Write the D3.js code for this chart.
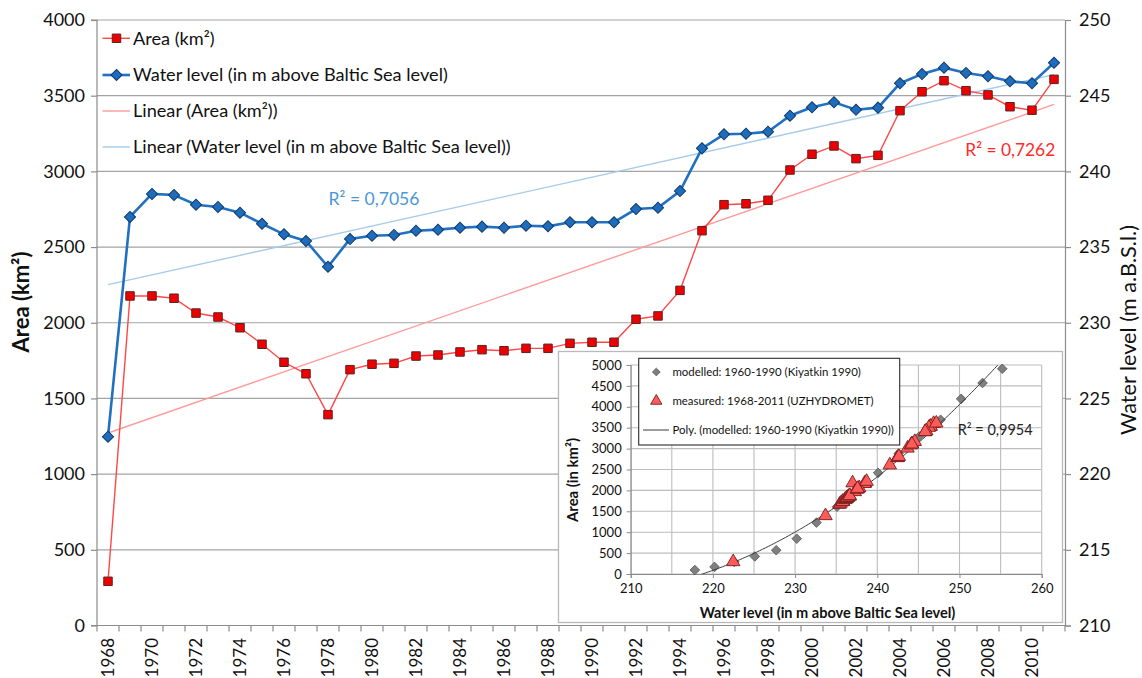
<!DOCTYPE html>
<html>
<head>
<meta charset="utf-8">
<script src="https://cdn.jsdelivr.net/npm/d3@7"></script>
<style>
  body { margin: 0; background: #fff; }
  svg { display: block; }
  text { font-family: Lato, "Open Sans", sans-serif; }
</style>
</head>
<body>
<svg id="chart" width="1142" height="678"></svg>
<script>
// ---- Aral Sea (Large Aral) area and water level, 1968–2011 ----
const years = [1968, 1969, 1970, 1971, 1972, 1973, 1974, 1975, 1976, 1977, 1978, 1979,
  1980, 1981, 1982, 1983, 1984, 1985, 1986, 1987, 1988, 1989, 1990, 1991, 1992, 1993,
  1994, 1995, 1996, 1997, 1998, 1999, 2000, 2001, 2002, 2003, 2004, 2005, 2006, 2007,
  2008, 2009, 2010, 2011];

// Area in km²
const areaKm2 = [292, 2177, 2177, 2162, 2064, 2038, 1967, 1858, 1739, 1663, 1393, 1690,
  1726, 1732, 1780, 1787, 1807, 1822, 1815, 1831, 1831, 1864, 1871, 1871, 2023, 2045,
  2214, 2608, 2780, 2786, 2809, 3009, 3113, 3168, 3084, 3106, 3401, 3526, 3599, 3533,
  3505, 3427, 3404, 3608];

// Water level in m above Baltic Sea level
const waterLevel = [222.47, 236.99, 238.51, 238.44, 237.80, 237.65, 237.27, 236.54, 235.84,
  235.40, 233.70, 235.53, 235.75, 235.80, 236.08, 236.15, 236.28, 236.35, 236.28, 236.41,
  236.37, 236.64, 236.64, 236.64, 237.51, 237.60, 238.70, 241.52, 242.45, 242.49, 242.62,
  243.68, 244.23, 244.56, 244.07, 244.21, 245.82, 246.43, 246.85, 246.50, 246.28, 245.95,
  245.82, 247.18];

const areaTicks = [0, 500, 1000, 1500, 2000, 2500, 3000, 3500, 4000];
const levelTicks = [210, 215, 220, 225, 230, 235, 240, 245, 250];
const yearLabels = [1968, 1970, 1972, 1974, 1976, 1978, 1980, 1982, 1984, 1986, 1988, 1990,
  1992, 1994, 1996, 1998, 2000, 2002, 2004, 2006, 2008, 2010];

const r2Area = "R² = 0,7262";
const r2Level = "R² = 0,7056";

// Modelled level–area relation (Kiyatkin 1990)
const modelLevel = [217.8, 220.2, 222.6, 225.1, 227.7, 230.2, 232.6, 235.1, 237.6, 240.1,
  242.6, 245.1, 247.7, 250.2, 252.8, 255.2];
const modelArea = [95, 170, 290, 420, 570, 845, 1230, 1610, 2010, 2420, 2880, 3290, 3690,
  4190, 4570, 4910];
const insetAreaTicks = [0, 500, 1000, 1500, 2000, 2500, 3000, 3500, 4000, 4500, 5000];
const insetLevelTicks = [210, 220, 230, 240, 250, 260];
const insetLevelGrid = [210, 215, 220, 225, 230, 235, 240, 245, 250, 255, 260];
const r2Poly = "R² = 0,9954";

// ---- helpers ----
const svg = d3.select("#chart");
const plain = d3.format("d");

function fitWidth(sel, width) {
  const fs = parseFloat(sel.attr("font-size"));
  const w = sel.node().getComputedTextLength();
  sel.attr("font-size", fs * width / w);
  return fs * width / w;
}

function linearFit(xs, ys) {
  const n = xs.length;
  const mx = d3.mean(xs), my = d3.mean(ys);
  let sxy = 0, sxx = 0;
  for (let i = 0; i < n; i++) { sxy += (xs[i] - mx) * (ys[i] - my); sxx += (xs[i] - mx) ** 2; }
  const b = sxy / sxx;
  return { a: my - b * mx, b };
}

function quadFit(xs, ys) {
  // least squares y = c0 + c1 u + c2 u², with u = x - mean(x)
  const x0 = d3.mean(xs);
  const S = [0, 0, 0, 0, 0], T = [0, 0, 0];
  xs.forEach((xv, i) => {
    const u = xv - x0;
    for (let k = 0; k < 5; k++) S[k] += u ** k;
    for (let k = 0; k < 3; k++) T[k] += ys[i] * u ** k;
  });
  const M = [[S[0], S[1], S[2], T[0]], [S[1], S[2], S[3], T[1]], [S[2], S[3], S[4], T[2]]];
  for (let c = 0; c < 3; c++) {
    let p = c;
    for (let r = c + 1; r < 3; r++) if (Math.abs(M[r][c]) > Math.abs(M[p][c])) p = r;
    [M[c], M[p]] = [M[p], M[c]];
    for (let r = 0; r < 3; r++) {
      if (r === c) continue;
      const f = M[r][c] / M[c][c];
      for (let k = c; k < 4; k++) M[r][k] -= f * M[c][k];
    }
  }
  const c = M.map((row, i) => row[3] / row[i]);
  return v => c[0] + c[1] * (v - x0) + c[2] * (v - x0) ** 2;
}

// ---- main chart ----
const plot = { left: 97, right: 1065, top: 20, bottom: 625.5 };
const x = d3.scaleBand().domain(years).range([plot.left, plot.right]);
const cx = yr => x(yr) + x.bandwidth() / 2;
const yA = d3.scaleLinear().domain([0, 4000]).range([plot.bottom, plot.top]);
const yL = d3.scaleLinear().domain([210, 250]).range([plot.bottom, plot.top]);

const gridColor = "#a3a3a3";
const axisColor = "#8c8c8c";

// horizontal gridlines
svg.append("g").selectAll("line").data(areaTicks.filter(t => t > 0)).join("line")
  .attr("x1", plot.left).attr("x2", plot.right)
  .attr("y1", d => yA(d)).attr("y2", d => yA(d))
  .attr("stroke", gridColor).attr("stroke-width", 1.2);

// left axis
const gLeft = svg.append("g").attr("transform", `translate(${plot.left},0)`)
  .call(d3.axisLeft(yA).tickValues(areaTicks).tickFormat(plain).tickSize(6).tickPadding(6));
gLeft.selectAll("path,line").attr("stroke", axisColor).attr("stroke-width", 1.2);
gLeft.selectAll("text").attr("font-size", 18).attr("fill", "#111");
gLeft.select(".domain").attr("d", `M-6,${plot.top}H0V${plot.bottom}H-6`);

// right axis
const gRight = svg.append("g").attr("transform", `translate(${plot.right},0)`)
  .call(d3.axisRight(yL).tickValues(levelTicks).tickFormat(plain).tickSize(6).tickPadding(8));
gRight.selectAll("path,line").attr("stroke", axisColor).attr("stroke-width", 1.2);
gRight.selectAll("text").attr("font-size", 18).attr("fill", "#111");

// bottom axis: tick marks between categories, labels every second year
const gBottom = svg.append("g").attr("transform", `translate(0,${plot.bottom})`);
gBottom.append("line").attr("x1", plot.left).attr("x2", plot.right)
  .attr("stroke", axisColor).attr("stroke-width", 1.2);
gBottom.selectAll("line.tick").data(years.concat([null])).join("line")
  .attr("class", "tick")
  .attr("x1", (d, i) => plot.left + i * x.bandwidth())
  .attr("x2", (d, i) => plot.left + i * x.bandwidth())
  .attr("y1", 0).attr("y2", 6)
  .attr("stroke", axisColor).attr("stroke-width", 1.2);
gBottom.selectAll("text").data(yearLabels).join("text")
  .attr("transform", d => `translate(${cx(d)},12.5) rotate(-90)`)
  .attr("text-anchor", "end").attr("dy", "0.36em")
  .attr("font-size", 17).attr("fill", "#111")
  .text(d => d);

// axis titles
const tLeft = svg.append("text")
  .attr("transform", "translate(29,302) rotate(-90)")
  .attr("text-anchor", "middle").attr("font-size", 20).attr("font-weight", 700)
  .attr("fill", "#111").text("Area (km²)");
fitWidth(tLeft, 101);
const tRight = svg.append("text")
  .attr("transform", "translate(1136,330) rotate(-90)")
  .attr("text-anchor", "middle").attr("font-size", 21).attr("font-weight", 400)
  .attr("fill", "#111").text("Water level (m a.B.S.l.)");
fitWidth(tRight, 210);

// linear trend lines
const fitA = linearFit(years, areaKm2);
const fitL = linearFit(years, waterLevel);
const y0 = years[0], y1 = years[years.length - 1];
svg.append("line")
  .attr("x1", cx(y0)).attr("y1", yA(fitA.a + fitA.b * y0))
  .attr("x2", cx(y1)).attr("y2", yA(fitA.a + fitA.b * y1))
  .attr("stroke", "#ff9a9a").attr("stroke-width", 1.4);
svg.append("line")
  .attr("x1", cx(y0)).attr("y1", yL(fitL.a + fitL.b * y0))
  .attr("x2", cx(y1)).attr("y2", yL(fitL.a + fitL.b * y1))
  .attr("stroke", "#a7cbea").attr("stroke-width", 1.4);

// area series
const areaColor = "#ff4747";
svg.append("path").datum(years)
  .attr("d", d3.line().x(cx).y((d, i) => yA(areaKm2[i])))
  .attr("fill", "none").attr("stroke", areaColor).attr("stroke-width", 1.4);
const squareSym = d3.symbol(d3.symbolSquare, 72);
svg.append("g").selectAll("path").data(years).join("path")
  .attr("d", squareSym)
  .attr("transform", (d, i) => `translate(${cx(d)},${yA(areaKm2[i])})`)
  .attr("fill", "#ee0000").attr("stroke", "#5b2222").attr("stroke-width", 1);

// water level series
const levelColor = "#2170c1";
svg.append("path").datum(years)
  .attr("d", d3.line().x(cx).y((d, i) => yL(waterLevel[i])))
  .attr("fill", "none").attr("stroke", levelColor).attr("stroke-width", 2.6);
const diamondSym = d3.symbol(d3.symbolSquare, 62);
svg.append("g").selectAll("path").data(years).join("path")
  .attr("d", diamondSym)
  .attr("transform", (d, i) => `translate(${cx(d)},${yL(waterLevel[i])}) rotate(45)`)
  .attr("fill", "#1f6cbd").attr("stroke", "#0d3b69").attr("stroke-width", 1);

// R² labels
const rL = svg.append("text").attr("x", 328.6).attr("y", 199.3).attr("dy", "0.35em")
  .attr("font-size", 17).attr("fill", "#4a98d8").text(r2Level);
fitWidth(rL, 91);
const rA = svg.append("text").attr("x", 965.3).attr("y", 150).attr("dy", "0.35em")
  .attr("font-size", 17).attr("fill", "#ff2a2a").text(r2Area);
fitWidth(rA, 90);

// legend
const legend = svg.append("g");
const legRows = [
  { label: "Area (km²)", y: 38.3, kind: "area" },
  { label: "Water level (in m above Baltic Sea level)", y: 75, kind: "level" },
  { label: "Linear (Area (km²))", y: 111, kind: "trendA" },
  { label: "Linear (Water level (in m above Baltic Sea level))", y: 147, kind: "trendL" }
];
const legStyles = {
  area: { stroke: areaColor, w: 1.4 },
  level: { stroke: levelColor, w: 2.6 },
  trendA: { stroke: "#ff9a9a", w: 1.4 },
  trendL: { stroke: "#a7cbea", w: 1.4 }
};
legRows.forEach(r => {
  const st = legStyles[r.kind];
  legend.append("line").attr("x1", 102.5).attr("x2", 130).attr("y1", r.y).attr("y2", r.y)
    .attr("stroke", st.stroke).attr("stroke-width", st.w);
  if (r.kind === "area")
    legend.append("path").attr("d", squareSym).attr("transform", `translate(116.5,${r.y})`)
      .attr("fill", "#ee0000").attr("stroke", "#5b2222");
  if (r.kind === "level")
    legend.append("path").attr("d", diamondSym).attr("transform", `translate(116.5,${r.y}) rotate(45)`)
      .attr("fill", "#1f6cbd").attr("stroke", "#0d3b69");
  r.node = legend.append("text").attr("x", 133).attr("y", r.y).attr("dy", "0.35em")
    .attr("font-size", 17).attr("fill", "#111").text(r.label);
});
const legSize = fitWidth(legRows[3].node, 378);
legRows.forEach(r => r.node.attr("font-size", legSize));

// ---- inset: area vs water level ----
const inset = svg.append("g");
inset.append("rect").attr("x", 558.5).attr("y", 351.5).attr("width", 504).attr("height", 271)
  .attr("fill", "#fff").attr("stroke", "#b9b9b9").attr("stroke-width", 1.3);

const ip = { left: 630.7, right: 1041.7, top: 365, bottom: 574 };
const xI = d3.scaleLinear().domain([210, 260]).range([ip.left, ip.right]);
const yI = d3.scaleLinear().domain([0, 5000]).range([ip.bottom, ip.top]);
const insetGrid = "#bdbdbd";

inset.append("g").selectAll("line").data(insetLevelGrid).join("line")
  .attr("x1", d => xI(d)).attr("x2", d => xI(d)).attr("y1", ip.top).attr("y2", ip.bottom)
  .attr("stroke", insetGrid).attr("stroke-width", 1.1);
inset.append("g").selectAll("line").data(insetAreaTicks).join("line")
  .attr("x1", ip.left).attr("x2", ip.right).attr("y1", d => yI(d)).attr("y2", d => yI(d))
  .attr("stroke", insetGrid).attr("stroke-width", 1.1);

const giY = inset.append("g").attr("transform", `translate(${ip.left},0)`)
  .call(d3.axisLeft(yI).tickValues(insetAreaTicks).tickFormat(plain).tickSize(4).tickPadding(5));
giY.selectAll("path,line").attr("stroke", "#8a8a8a");
giY.selectAll("text").attr("font-size", 13).attr("fill", "#111");
const giX = inset.append("g").attr("transform", `translate(0,${ip.bottom})`)
  .call(d3.axisBottom(xI).tickValues(insetLevelTicks).tickFormat(plain).tickSize(4).tickPadding(6));
giX.selectAll("path,line").attr("stroke", "#8a8a8a");
giX.selectAll("text").attr("font-size", 13).attr("fill", "#111");

const itY = inset.append("text").attr("transform", "translate(578,480) rotate(-90)")
  .attr("text-anchor", "middle").attr("font-size", 13).attr("font-weight", 700)
  .attr("fill", "#111").text("Area (in km²)");
fitWidth(itY, 84);
const itX = inset.append("text").attr("x", 827.5).attr("y", 612.7).attr("dy", "0.35em")
  .attr("text-anchor", "middle").attr("font-size", 14).attr("font-weight", 700)
  .attr("fill", "#111").text("Water level (in m above Baltic Sea level)");
fitWidth(itX, 256);

inset.append("clipPath").attr("id", "insetClip").append("rect")
  .attr("x", ip.left).attr("y", ip.top).attr("width", ip.right - ip.left).attr("height", ip.bottom - ip.top);

const smallDiamond = d3.symbol(d3.symbolSquare, 46);
const triangleSym = d3.symbol(d3.symbolTriangle, 78);

inset.append("g").selectAll("path").data(modelLevel).join("path")
  .attr("d", smallDiamond)
  .attr("transform", (d, i) => `translate(${xI(d)},${yI(modelArea[i])}) rotate(45)`)
  .attr("fill", "#7f7f7f").attr("stroke", "#595959").attr("stroke-width", 0.8);

const poly = quadFit(modelLevel, modelArea);
const polyPts = d3.range(0, 201).map(k => {
  const v = modelLevel[0] + (modelLevel[modelLevel.length - 1] - modelLevel[0]) * k / 200;
  return [v, poly(v)];
});
inset.append("path").datum(polyPts)
  .attr("clip-path", "url(#insetClip)")
  .attr("d", d3.line().x(d => xI(d[0])).y(d => yI(d[1])))
  .attr("fill", "none").attr("stroke", "#3a3a3a").attr("stroke-width", 1);

inset.append("g").selectAll("path").data(years).join("path")
  .attr("d", triangleSym)
  .attr("transform", (d, i) => `translate(${xI(waterLevel[i])},${yI(areaKm2[i])})`)
  .attr("fill", "#ff5b5b").attr("stroke", "#7a1c1c").attr("stroke-width", 0.9);

inset.append("text").attr("x", 957.7).attr("y", 430).attr("dy", "0.35em")
  .attr("font-size", 15).attr("fill", "#222").text(r2Poly)
  .call(s => fitWidth(s, 75));

// inset legend
const il = inset.append("g");
il.append("rect").attr("x", 638.7).attr("y", 358.3).attr("width", 261).attr("height", 86.7)
  .attr("fill", "#fff").attr("stroke", "#2b2b2b").attr("stroke-width", 1.1);
const ilRows = [
  { label: "modelled: 1960-1990 (Kiyatkin 1990)", y: 372, kind: "model" },
  { label: "measured: 1968-2011 (UZHYDROMET)", y: 401, kind: "measured" },
  { label: "Poly. (modelled: 1960-1990 (Kiyatkin 1990))", y: 430, kind: "poly" }
];
ilRows.forEach(r => {
  if (r.kind === "model")
    il.append("path").attr("d", d3.symbol(d3.symbolSquare, 30))
      .attr("transform", `translate(656.3,${r.y}) rotate(45)`)
      .attr("fill", "#7f7f7f").attr("stroke", "#595959").attr("stroke-width", 0.8);
  if (r.kind === "measured")
    il.append("path").attr("d", d3.symbol(d3.symbolTriangle, 55))
      .attr("transform", `translate(656.3,${r.y})`)
      .attr("fill", "#ff5b5b").attr("stroke", "#7a1c1c").attr("stroke-width", 0.9);
  if (r.kind === "poly")
    il.append("line").attr("x1", 643).attr("x2", 669).attr("y1", r.y).attr("y2", r.y)
      .attr("stroke", "#3a3a3a").attr("stroke-width", 1);
  r.node = il.append("text").attr("x", 672.4).attr("y", r.y).attr("dy", "0.35em")
    .attr("font-size", 12).attr("fill", "#111").text(r.label);
});
const ilSize = fitWidth(ilRows[2].node, 221.5);
ilRows.forEach(r => r.node.attr("font-size", ilSize));
</script>
</body>
</html>
